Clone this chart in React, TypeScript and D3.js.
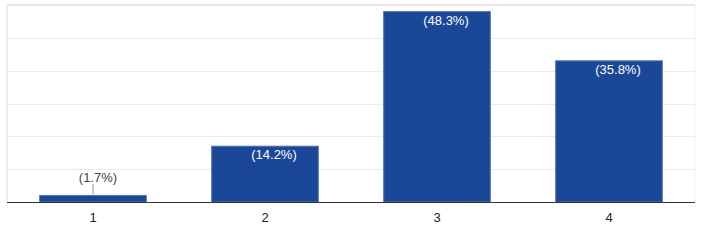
import React from "react";
import * as d3 from "d3";

const categories = ["1", "2", "3", "4"];
const counts = [2, 17, 58, 43];
const percentLabels = ["(1.7%)", "(14.2%)", "(48.3%)", "(35.8%)"];
const yTicks = [0, 10, 20, 30, 40, 50, 60];

const W = 708;
const H = 242;
const left = 7;
const right = 695;
const top = 5;
const bottom = 202;

export default function App() {
  const x = d3.scaleBand<string>().domain(categories).range([left, right]).paddingInner(0.38).paddingOuter(0.19);
  const y = d3.scaleLinear().domain([0, 60]).range([bottom, top]);
  const font = "Arial, 'Liberation Sans', sans-serif";
  return (
    <svg width={W} height={H} style={{ position: "absolute", left: 0, top: 0, background: "#fff" }}>
      {yTicks.map((t) => (
        <line key={t} x1={left} x2={right} y1={Math.round(y(t)) + 0.5} y2={Math.round(y(t)) + 0.5} stroke="#ebebeb" strokeWidth={1} />
      ))}
      <line x1={left} x2={right} y1={top} y2={top} stroke="#e8e8e8" strokeWidth={2} />
      <line x1={left} x2={left} y1={top} y2={bottom} stroke="#ececec" strokeWidth={2} />
      <line x1={right} x2={right} y1={top} y2={bottom} stroke="#f0f0f0" strokeWidth={1} />
      {categories.map((c, i) => {
        const bx = x(c)!;
        const bw = x.bandwidth();
        const by = y(counts[i]);
        return (
          <rect key={c} x={bx} y={by} width={bw} height={bottom - by} fill="#1b4799" stroke="#5273b3" strokeWidth={1} />
        );
      })}
      <line x1={left} x2={right} y1={bottom + 0.5} y2={bottom + 0.5} stroke="#333" strokeWidth={1} />
      {categories.map((c, i) => {
        const cx = x(c)! + x.bandwidth() / 2;
        const by = y(counts[i]);
        const inside = bottom - by > 30;
        if (inside) {
          return (
            <text key={c} x={cx + 9} y={by + 13} textAnchor="middle" fill="#fff" fontFamily={font} fontSize={13}>
              {percentLabels[i]}
            </text>
          );
        }
        return (
          <g key={c}>
            <line x1={cx} x2={cx} y1={by - 1} y2={184} stroke="#999" strokeWidth={1} />
            <text x={cx + 5} y={182} textAnchor="middle" fill="#444" fontFamily={font} fontSize={13}>
              {percentLabels[i]}
            </text>
          </g>
        );
      })}
      {categories.map((c) => (
        <text key={c} x={x(c)! + x.bandwidth() / 2} y={222} textAnchor="middle" fill="#222" fontFamily={font} fontSize={13}>
          {c}
        </text>
      ))}
    </svg>
  );
}
